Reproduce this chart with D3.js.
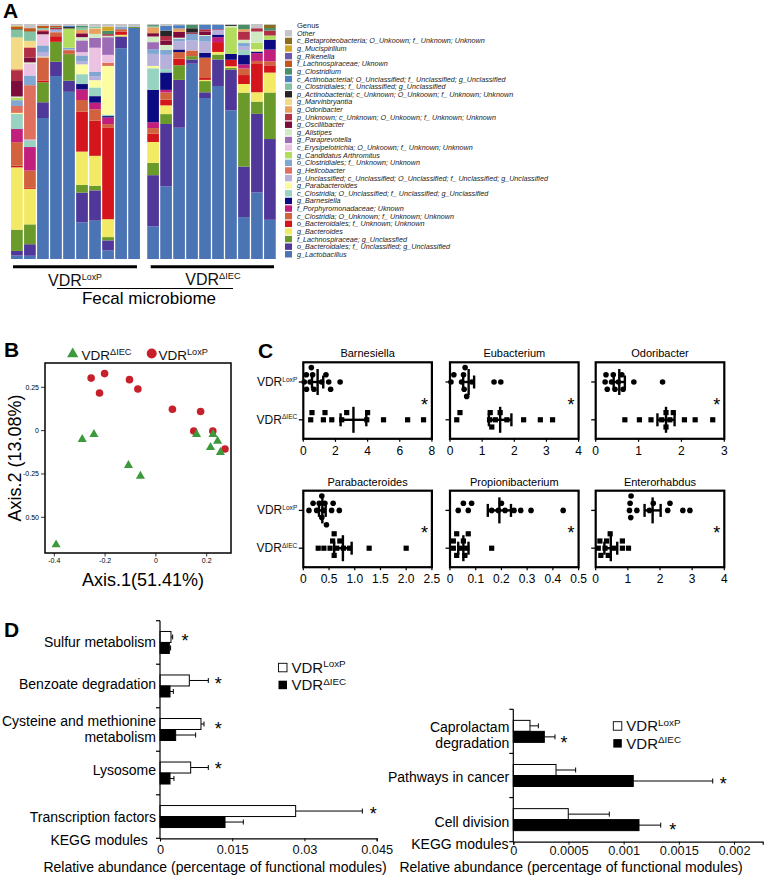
<!DOCTYPE html>
<html><head><meta charset="utf-8">
<script src="https://cdn.jsdelivr.net/npm/d3@7"></script>
<style>body{margin:0;background:#fff} svg{display:block;font-family:"Liberation Sans",Arial,sans-serif}</style>
</head><body>
<script>
// ---------------- DATA ----------------
// Panel A: genera, bottom of stack -> top of stack
const genera = [
 "g_Lactobacillus","o_Bacteroidales; f_ Unclassified; g_Unclassified","f_Lachnospiraceae; g_Unclassfied","g_Bacteroides",
 "o_Bacteroidales; f_ Unknown; Unknown","c_Clostridia; O_Unknown; f_ Unknown; Unknown","f_Porphyromonadaceae; Uknown","g_Barnesiella",
 "c_Clostridia; O_Unclassified; f_ Unclassified; g_Unclassified","g_Parabacteroides",
 "p_Unclassified; c_Unclassified; O_Unclassified; f_ Unclassified; g_Unclassified","g_Helicobacter",
 "o_Clostridiales; f_ Unknown; Unknown","g_Candidatus Arthromitus","c_Erysipelotrichia; O_Unkoown; f_ Unknown; Unknown",
 "g_Paraprevotella","g_Alistipes","g_Oscillibacter","p_Unknown; c_Unknown; O_Unkoown; f_ Unknown; Unknown","g_Odoribacter",
 "g_Marvinbryantia","p_Actinobacterial; c_Unknown; O_Unkoown; f_ Unknown; Unknown","o_Clostridiales; f_ Unclassified; g_Unclassified",
 "c_Actinobacterial; O_Unclassified; f_ Unclassified; g_Unclassified","g_Clostridium","f_Lachnospiraceae; Uknown","g_Rikenella",
 "g_Mucispirillum","c_Betaproteobacteria; O_Unkoown; f_ Unknown; Unknown","Other"];
const genusColors = ["#4a74b4","#50389a","#6a9a2a","#f2ea64","#d4161c","#d2623e","#c21e7e","#0c0a80","#98d2c0","#fcfca0",
 "#b6b0da","#e0705e","#80a6d2","#b2dc5e","#ecc2e2","#9e6cb6","#d0eac4","#7c0c3c","#b02e46","#eaa05c",
 "#f2da86","#262626","#82c2a2","#4c7ec2","#4a8e6a","#c2581c","#6a5aac","#d4a628","#8c6c1e","#c4c4c4"];
// relative abundance (%) per sample, in genus order above
const loxpSamples = [
 [1.5,2,9.2,27,0.7,10.2,5.7,0,6.5,0.5,0,3,2.5,1.1,0,0,0.5,6.7,4.7,0.7,13.5,0,3.1,0,0.5,1.1,0,0.3,0,0.8],
 [1.4,5,8.6,15.4,0.4,7.5,10.2,0,2.8,0,0.5,23.5,4.2,0,5.2,0,0.5,2.1,4.2,0.5,2.5,0,3.8,0,0.3,1.4,0,0,0,1.8],
 [60,6.7,8.5,0,0.8,9.8,0,0,0,0.3,2,0,2.8,0,4.4,0,0.3,1,0.7,0.3,0,0,0.7,0,0,1,0,0,0,0.7],
 [78,6.1,8.5,0,2.4,1.7,0,0,0,0,0.6,0,0.6,0,0,0,0,0,0.6,0,0,0,0,0,0.3,0.6,0,0,0,0.8],
 [71,4.7,11.3,0,0.3,1.4,0,0,0,0,0.4,0,0.6,8.2,0,0,0,0,0,0,0,0.6,0,0.6,0,0,0,0,0,0.7],
 [15.6,12.7,3.3,14.2,17,5,4.5,2.3,4.2,4.2,1.4,0,2.4,0,1.4,5,1.4,1.4,0.3,1.4,0,0,1,0,0.7,0,0,0,0,0.8],
 [16.3,12.9,2,12.7,15,4.8,2.8,2.8,3.7,3.1,1.7,0,1.8,0,10.3,4.2,1.7,0,0,2.1,0.3,0,0.7,0,0,0,0,0,0,1.1],
 [3.7,4.2,1.4,7.6,39,1.4,2.8,0.6,0.6,20.7,0,1.4,0,0,3.3,7.5,0.6,0,0.7,0,0,0,0,0,1.4,0,0,1.8,0,1.1],
 [89.7,5,0,0.7,1.4,1,0,0,0,0,0,0,1.1,0,0,0,0,0,0,0,0,0,0,0,0,0,0,0,0,1.1],
 [98.6,0,0.5,0,0,0,0,0,0,0,0.3,0,0,0,0,0,0,0,0,0,0,0,0,0,0,0,0,0,0,0.9]];
const iecSamples = [
 [13.9,21.7,5.2,8.9,3.5,2.4,2.5,13.7,9.2,1,5.1,0,2,0,0,3,2.4,1.4,0,2.5,0,0,0.6,0,0.4,0,0,0,0,0.4],
 [30.9,26.5,4.2,3.7,2.4,3.1,1.1,7.4,1.4,0,6.1,0,2.1,0,0,0,2.1,1.8,2,0,0,2.3,0,2,0,0,0,0,0,0.8],
 [55.7,20.3,6.2,0,2.8,2.8,0,1.1,0,0,3.5,0,1,0,0,0,0.5,2.5,0,1.4,0,0,0,1.4,0,0,0,0,0,0.5],
 [82.6,1.8,1.4,0,0,2.4,0,0,0,0,4.2,0,2.8,0,0,0,0,0.3,0.3,0,0,1.8,0,0,1.4,0,0,0,0,0.4],
 [67.4,2.4,4.7,0.5,0.8,8.5,0,2,0,0,4.7,0,2.4,0,0,0,0.4,1.4,1,0,0,0,0,1.8,0,0,0,0,0,0.4],
 [73.7,11.3,2.1,1.1,4.2,0,2.1,1.1,0,0,2,0,0,0,0,0,0,0,0.3,0,0,0,0,1.8,0,0,0,0,0,0.4],
 [63.2,17.3,0.7,0.7,2.8,0,0,2.5,0,0,0,0,0,11.3,0,0,0.6,0,0,0,0,0.4,0,0,0,0,0,0,0,0.4],
 [17.8,21.5,31.4,3.7,3.8,2.8,1.7,4,2.1,0,1.5,0,1.5,0,0,0,1.4,0,3.5,1,0,0,0,0,1.8,0,0,0,0,0.4],
 [28.3,33.4,5.2,4,12.3,1,3.3,0.7,0,1,0,0,0,2.8,0,0,4.7,0,1.4,0,0,0,0,0,0,0,0,0,0,1.8],
 [16.7,34.4,19.8,8.5,3.1,1.7,5,4.2,0,0,0,0,0,1.8,0,0,0,0,2.1,0,0,0,0,0,1.1,0,0,0,1.4,0.3]];

// Panel B: PCoA
const loxpPC1 = [-0.255,-0.202,-0.222,-0.104,-0.071,0.065,0.176,0.149,0.224,0.272];
const loxpPC2 = [0.303,0.329,0.217,0.294,0.240,0.123,0.110,-0.002,-0.002,-0.106];
const iecPC1 = [-0.290,-0.244,-0.108,-0.061,0.160,0.225,0.243,0.215,0.254,-0.393];
const iecPC2 = [-0.050,-0.021,-0.200,-0.262,-0.021,-0.021,-0.060,-0.096,-0.125,-0.658];
const bXTicks = [-0.4,-0.2,0,0.2], bXTickLabels = ["-0.4","-0.2","0","0.2"];
const bYTicks = [0.25,0,-0.25,-0.5], bYTickLabels = ["0.25","0","-0.25","0.50"];

// Panel C: genus abundance dot plots
const cTitles = ["Barnesiella","Eubacterium","Odoribacter","Parabacteroides","Propionibacterium","Enterorhabdus"];
const cMax = [8,4,3,2.5,0.5,4];
const cTicks = [[0,2,4,6,8],[0,1,2,3,4],[0,1,2,3],[0,0.5,1,1.5,2,2.5],[0,0.1,0.2,0.3,0.4,0.5],[0,1,2,3,4]];
const cTickLabels = [["0","2","4","6","8"],["0","1","2","3","4"],["0","1","2","3"],["0","0.5","1.0","1.5","2.0","2.5"],["0","0.1","0.2","0.3","0.4","0.5"],["0","1","2","3","4"]];
const cLoxP = [
 [0.06,0.19,0.2,0.42,0.5,0.58,0.66,1.14,1.41,1.58,1.7,2.29],
 [0.03,0.12,0.36,0.42,0.44,0.47,0.52,0.68,1.37,1.58],
 [0.22,0.24,0.27,0.37,0.41,0.45,0.53,0.61,0.64,0.89,1.56],
 [0.11,0.19,0.26,0.31,0.36,0.36,0.39,0.42,0.45,0.55,0.58,0.70],
 [0.032,0.052,0.071,0.084,0.162,0.188,0.20,0.214,0.249,0.275,0.315,0.44],
 [1.05,1.07,1.09,1.10,1.28,1.67,1.79,2.24,2.31,2.71,2.93]];
const cIEC = [
 [0.46,0.54,1.25,1.35,1.77,2.39,2.7,3.95,4.0,4.99,6.49,7.48],
 [0.21,0.31,1.23,1.25,1.3,1.41,1.56,1.77,2.29,2.81,3.19],
 [0.68,1.02,1.29,1.54,1.64,1.64,1.73,1.81,2.07,2.32,2.73],
 [0.29,0.40,0.52,0.57,0.6,0.6,0.65,0.71,0.78,0.9,1.28,2.0],
 [0.013,0.013,0.026,0.026,0.039,0.052,0.058,0.065,0.071,0.162],
 [0.08,0.13,0.16,0.29,0.34,0.39,0.45,0.55,0.83,0.83,1.02]];
const cMeanLoxP = [0.89,0.58,0.55,0.37,0.192,1.77];
const cSemLoxP  = [0.35,0.17,0.13,0.065,0.045,0.25];
const cMeanIEC  = [3.12,1.56,1.64,0.77,0.052,0.47];
const cSemIEC   = [0.8,0.35,0.2,0.17,0.02,0.2];

// Panel D: KEGG modules
const d1Cats = ["Sulfur metabolism","Benzoate degradation","Cysteine and methionine metabolism","Lysosome","Transcription factors"];
const d1LoxP = [0.00228,0.00609,0.00851,0.00637,0.02817];
const d1LoxPErr = [0.00035,0.00394,0.00063,0.00366,0.01385];
const d1IEC = [0.00194,0.00208,0.00325,0.00208,0.0135];
const d1IECErr = [0.00026,0.00069,0.00415,0.00082,0.0038];
const d1Ticks = [0,0.015,0.03,0.045], d1TickLabels = ["0","0.015","0.03","0.045"];
const d2Cats = ["Caprolactam degradation","Pathways in cancer","Cell division"];
const d2LoxP = [0.000151,0.000387,0.000498];
const d2LoxPErr = [0.000076,0.000178,0.000372];
const d2IEC = [0.000281,0.001087,0.001139];
const d2IECErr = [0.000097,0.00072,0.000197];
const d2Ticks = [0,0.0005,0.001,0.0015,0.002], d2TickLabels = ["0","0.0005","0.001","0.0015","0.002"];

// ---------------- DRAWING ----------------
const svg = d3.select("body").append("svg").attr("width",765).attr("height",876);

function panelLabel(t,x,y){ svg.append("text").attr("x",x).attr("y",y).attr("font-size",21).attr("font-weight","bold").text(t); }
function vdr(g,x,y,sup,size,anchor,ratio){
  const r = ratio||0.6;
  const t = g.append("text").attr("x",x).attr("y",y).attr("font-size",size).attr("text-anchor",anchor||"start").attr("fill","#111");
  t.append("tspan").text("VDR");
  t.append("tspan").attr("font-size",size*r).attr("dy",-size*0.36).text(sup);
  return t;
}

// ===== Panel A =====
panelLabel("A",3,18);
const yA = d3.scaleLinear().domain([0,1]).range([259,24]);
const stackA = d3.stack().keys(d3.range(genera.length)).value((d,k)=>d[k]).offset(d3.stackOffsetExpand);
function drawGroup(samples, range){
  const x = d3.scaleBand().domain(d3.range(samples.length)).range(range).paddingInner(0.1).paddingOuter(0.05);
  const series = stackA(samples);
  svg.append("g").selectAll("g").data(series).join("g").attr("fill",(d,i)=>genusColors[i])
    .selectAll("rect").data(d=>d).join("rect")
    .attr("x",(d,j)=>x(j)).attr("width",x.bandwidth())
    .attr("y",d=>yA(d[1])).attr("height",d=>Math.max(0,yA(d[0])-yA(d[1])));
}
drawGroup(loxpSamples,[10.4,140.6]);
drawGroup(iecSamples,[146.6,276.4]);
const gA = svg.append("g");
gA.append("line").attr("x1",13).attr("x2",137).attr("y1",266.7).attr("y2",266.7).attr("stroke","#000").attr("stroke-width",3);
gA.append("line").attr("x1",150.7).attr("x2",274).attr("y1",266.7).attr("y2",266.7).attr("stroke","#000").attr("stroke-width",3);
vdr(gA,75,286,"LoxP",16,"middle",0.55);
vdr(gA,213,285,"ΔIEC",16,"middle",0.58);
gA.append("line").attr("x1",57).attr("x2",233).attr("y1",288.5).attr("y2",288.5).attr("stroke","#000").attr("stroke-width",1.2);
gA.append("text").attr("x",149).attr("y",304).attr("text-anchor","middle").attr("font-size",17).text("Fecal microbiome");
// legend
const leg = svg.append("g");
leg.append("text").attr("x",297).attr("y",27.5).attr("font-size",7.5).attr("fill","#222").text("Genus");
const legOrder = d3.range(genera.length).reverse();
leg.selectAll("g.it").data(legOrder).join("g").attr("class","it").each(function(gi,row){
  const cy = 33.3 + row*7.62;
  const s = d3.select(this);
  s.append("rect").attr("x",285).attr("y",cy-3.2).attr("width",7).attr("height",6.4).attr("fill",genusColors[gi]);
  s.append("text").attr("x",297).attr("y",cy+2.5).attr("font-size",7.2).attr("font-style","italic").attr("fill","#222").text(genera[gi]);
});

// ===== Panel B =====
panelLabel("B",4,357);
const xB = d3.scaleLinear().domain([-0.4,0.2]).range([54.3,206.7]);
const yB = d3.scaleLinear().domain([-0.5,0.25]).range([517.3,387.3]);
const gB = svg.append("g");
gB.append("rect").attr("x",45).attr("y",363).attr("width",186).attr("height",190).attr("fill","none").attr("stroke","#000").attr("stroke-width",1.5);
bYTicks.forEach((v,i)=>{
  gB.append("line").attr("x1",41).attr("x2",45).attr("y1",yB(v)).attr("y2",yB(v)).attr("stroke","#000").attr("stroke-width",0.8);
  gB.append("text").attr("x",39).attr("y",yB(v)+2.4).attr("text-anchor","end").attr("font-size",7).text(bYTickLabels[i]);
});
bXTicks.forEach((v,i)=>{
  gB.append("line").attr("x1",xB(v)).attr("x2",xB(v)).attr("y1",553).attr("y2",556.5).attr("stroke","#000").attr("stroke-width",0.8);
  gB.append("text").attr("x",xB(v)).attr("y",563).attr("text-anchor","middle").attr("font-size",7).text(bXTickLabels[i]);
});
gB.selectAll("circle.lox").data(d3.range(loxpPC1.length)).join("circle").attr("class","lox")
  .attr("cx",i=>xB(loxpPC1[i])).attr("cy",i=>yB(loxpPC2[i])).attr("r",3.8).attr("fill","#c8202a");
const tri = d3.symbol(d3.symbolTriangle,36)();
gB.selectAll("path.iec").data(d3.range(iecPC1.length)).join("path").attr("class","iec")
  .attr("d",tri).attr("transform",i=>`translate(${xB(iecPC1[i])},${yB(iecPC2[i])})`).attr("fill","#3c9a3c");
gB.append("text").attr("x",143).attr("y",586).attr("text-anchor","middle").attr("font-size",18).text("Axis.1(51.41%)");
gB.append("text").attr("transform","translate(21,458) rotate(-90)").attr("text-anchor","middle").attr("font-size",18).text("Axis.2 (13.08%)");
gB.append("path").attr("d",d3.symbol(d3.symbolTriangle,55)()).attr("transform","translate(72.7,354)").attr("fill","#3c9a3c");
vdr(gB,81.5,359.5,"ΔIEC",13.5,"start",0.68);
gB.append("circle").attr("cx",151.7).attr("cy",353.5).attr("r",5).attr("fill","#c8202a");
vdr(gB,158.5,359.5,"LoxP",13.5,"start",0.68);

// ===== Panel C =====
panelLabel("C",258,358);
const cCols = [303.3,450,595.7], cRows = [362.3,490.7], cW = 128.6, cH = 76.5;
const gC = svg.append("g");
function dodge(vals, x, sep, step){
  const order = d3.range(vals.length).sort((a,b)=>vals[a]-vals[b]);
  const placed = []; const off = new Array(vals.length);
  const levels = [0,-step,step,-2*step,2*step];
  order.forEach(i=>{
    const px = x(vals[i]);
    for (const L of levels){
      if (!placed.some(p=>p.o===L && Math.abs(p.x-px)<sep)){ off[i]=L; placed.push({x:px,o:L}); break; }
    }
    if (off[i]===undefined){ off[i]=0; }
  });
  return off;
}
cTitles.forEach((title,k)=>{
  const x0 = cCols[k%3], y0 = cRows[Math.floor(k/3)];
  const x = d3.scaleLinear().domain([0,cMax[k]]).range([x0,x0+cW]);
  const y = d3.scalePoint().domain(["LoxP","ΔIEC"]).range([y0+19.7,y0+57.5]);
  const g = gC.append("g");
  g.append("rect").attr("x",x0).attr("y",y0).attr("width",cW).attr("height",cH).attr("fill","none").attr("stroke","#000").attr("stroke-width",2.2);
  g.append("text").attr("x",x0+cW/2).attr("y",y0-5).attr("text-anchor","middle").attr("font-size",11).text(title);
  y.domain().forEach(r=>{
    g.append("line").attr("x1",x0-4.5).attr("x2",x0).attr("y1",y(r)).attr("y2",y(r)).attr("stroke","#000").attr("stroke-width",1.3);
  });
  if (k%3===0){
    vdr(g,x0-6,y("LoxP")+4,"LoxP",12,"end",0.55);
    vdr(g,x0-6,y("ΔIEC")+4,"ΔIEC",12,"end",0.55);
  }
  cTicks[k].forEach((v,i)=>{
    g.append("line").attr("x1",x(v)).attr("x2",x(v)).attr("y1",y0+cH).attr("y2",y0+cH+3).attr("stroke","#000").attr("stroke-width",1.2);
    g.append("text").attr("x",x(v)).attr("y",y0+cH+16).attr("text-anchor","middle").attr("font-size",12).text(cTickLabels[k][i]);
  });
  // points
  const offL = dodge(cLoxP[k],x,5.2,7.2);
  g.selectAll("circle").data(cLoxP[k]).join("circle").attr("cx",d=>x(d)).attr("cy",(d,i)=>y("LoxP")+offL[i]).attr("r",2.8).attr("fill","#000");
  const offI = dodge(cIEC[k],x,5.2,7.2);
  g.selectAll("rect.sq").data(cIEC[k]).join("rect").attr("class","sq")
    .attr("x",d=>x(d)-2.6).attr("y",(d,i)=>y("ΔIEC")+offI[i]-2.6).attr("width",5.2).attr("height",5.2).attr("fill","#000");
  // mean +/- SEM
  [["LoxP",cMeanLoxP[k],cSemLoxP[k]],["ΔIEC",cMeanIEC[k],cSemIEC[k]]].forEach(([r,m,s])=>{
    const cy = y(r);
    g.append("line").attr("x1",x(m)).attr("x2",x(m)).attr("y1",cy-13).attr("y2",cy+13).attr("stroke","#000").attr("stroke-width",2.4);
    g.append("line").attr("x1",x(m-s)).attr("x2",x(m+s)).attr("y1",cy).attr("y2",cy).attr("stroke","#000").attr("stroke-width",2.4);
    [m-s,m+s].forEach(v=>g.append("line").attr("x1",x(v)).attr("x2",x(v)).attr("y1",cy-6.5).attr("y2",cy+6.5).attr("stroke","#000").attr("stroke-width",2.4));
  });
  const mid = (y("LoxP")+y("ΔIEC"))/2;
  g.append("text").attr("x",x0+cW-7.5).attr("y",mid+10).attr("text-anchor","middle").attr("font-size",18).text("*");
});

// ===== Panel D =====
panelLabel("D",4,637);
function drawD(cfg){
  const g = svg.append("g");
  const x = d3.scaleLinear().domain([0,cfg.max]).range([cfg.x0,cfg.x1]);
  const y = d3.scaleBand().domain(cfg.cats).range([cfg.y0,cfg.y1]);
  const bh = 11;
  // bars
  cfg.cats.forEach((c,i)=>{
    const cy = y(c)+y.bandwidth()/2;
    [[cfg.lox[i],cfg.loxErr[i],cy-bh,"#fff"],[cfg.iec[i],cfg.iecErr[i],cy,"#000"]].forEach(([v,e,top,fill])=>{
      const mid = top+bh/2;
      g.append("line").attr("x1",x(v)).attr("x2",x(v+e)).attr("y1",mid).attr("y2",mid).attr("stroke","#000").attr("stroke-width",1);
      g.append("line").attr("x1",x(v+e)).attr("x2",x(v+e)).attr("y1",mid-2.5).attr("y2",mid+2.5).attr("stroke","#000").attr("stroke-width",1);
      g.append("rect").attr("x",x(0)).attr("y",top).attr("width",x(v)-x(0)).attr("height",bh).attr("fill",fill).attr("stroke","#000").attr("stroke-width",1);
    });
    // labels
    const lines = cfg.labelLines[i];
    lines.forEach((t,j)=>{
      const ly = cy + (j-(lines.length-1)/2)*16 + cfg.labelShift[i];
      g.append("text").attr("x",cfg.x0-4).attr("y",ly+5).attr("text-anchor","end").attr("font-size",14).text(t);
    });
    g.append("text").attr("x",cfg.starX[i]).attr("y",cfg.starY[i]+9.5).attr("text-anchor","middle").attr("font-size",18).text("*");
  });
  // y axis & band ticks
  g.append("line").attr("x1",cfg.x0).attr("x2",cfg.x0).attr("y1",cfg.y0).attr("y2",cfg.y1).attr("stroke","#000").attr("stroke-width",1.2);
  cfg.cats.map(c=>y(c)).concat([cfg.y1]).forEach(b=>{
    g.append("line").attr("x1",cfg.x0-4).attr("x2",cfg.x0).attr("y1",b).attr("y2",b).attr("stroke","#000").attr("stroke-width",1.2);
  });
  // x axis
  const ax = g.append("g").attr("transform",`translate(0,${cfg.y1})`)
    .call(d3.axisBottom(x).tickValues(cfg.ticks).tickFormat((d,i)=>cfg.tickLabels[i]).tickSizeOuter(0).tickSize(3).tickPadding(cfg.tickPad));
  ax.select(".domain").attr("stroke-width",1.2);
  ax.selectAll("text").attr("font-size",12.8).attr("font-family",null).attr("dy","0.75em").attr("fill","#111");
  g.append("text").attr("x",cfg.keggX).attr("y",cfg.y1+7).attr("text-anchor","end").attr("font-size",14).text("KEGG modules");
  g.append("text").attr("x",cfg.titleX).attr("y",871.5).attr("text-anchor","middle").attr("font-size",14).text("Relative abundance (percentage of functional modules)");
  // legend
  g.append("rect").attr("x",cfg.legX).attr("y",cfg.legY).attr("width",8.5).attr("height",8.5).attr("fill","#fff").attr("stroke","#000").attr("stroke-width",0.9);
  vdr(g,cfg.legX+13,cfg.legY+9.5,"LoxP",15,"start",0.66);
  g.append("rect").attr("x",cfg.legX).attr("y",cfg.legY+17.4).attr("width",8.5).attr("height",8.5).attr("fill","#000");
  vdr(g,cfg.legX+13,cfg.legY+27,"ΔIEC",15,"start",0.66);
}
drawD({cats:d1Cats, lox:d1LoxP, loxErr:d1LoxPErr, iec:d1IEC, iecErr:d1IECErr, max:0.045, ticks:d1Ticks, tickLabels:d1TickLabels,
  x0:160, x1:376.7, y0:620.7, y1:838.3, tickPad:3,
  labelLines:[["Sulfur metabolism"],["Benzoate degradation"],["Cysteine and methionine","metabolism"],["Lysosome"],["Transcription factors"]],
  labelShift:[-0.5,-2,-0.5,-3,0.5],
  starX:[185,218.3,218.3,218.3,373.3], starY:[637,680,725.7,765.7,810.7],
  keggX:147.7, titleX:215, legX:278.5, legY:663.3});
drawD({cats:d2Cats, lox:d2LoxP, loxErr:d2LoxPErr, iec:d2IEC, iecErr:d2IECErr, max:0.00226, ticks:d2Ticks, tickLabels:d2TickLabels,
  x0:513.3, x1:762.7, y0:709.3, y1:841.7, tickPad:0.5,
  labelLines:[["Caprolactam","degradation"],["Pathways in cancer"],["Cell division"]],
  labelShift:[3.5,1,2],
  starX:[564,723.3,672.7], starY:[739.3,780.7,826],
  keggX:508.5, titleX:571, legX:613.3, legY:721.7});
</script>
</body></html>
